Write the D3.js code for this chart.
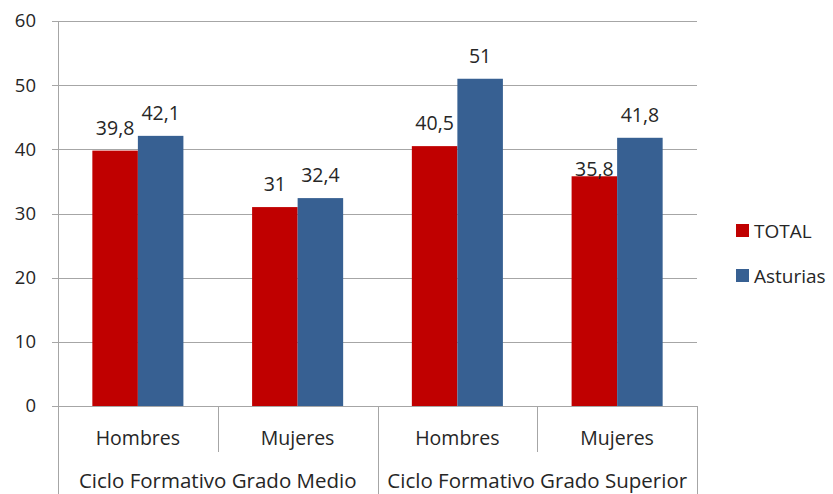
<!DOCTYPE html>
<html>
<head>
<meta charset="utf-8">
<script src="https://cdn.jsdelivr.net/npm/d3@7"></script>
<style>
  body { margin: 0; background: #fff; }
  svg { display: block; font-family: "Open Sans", "Noto Sans", sans-serif; }
</style>
</head>
<body>
<svg id="chart" width="833" height="494"></svg>
<script>
// Data
const groups = ["Ciclo Formativo Grado Medio", "Ciclo Formativo Grado Superior"];
const categories = ["Hombres", "Mujeres", "Hombres", "Mujeres"];
const seriesNames = ["TOTAL", "Asturias"];
const totalValues = [39.8, 31, 40.5, 35.8];
const asturiasValues = [42.1, 32.4, 51, 41.8];
const yTicks = [0, 10, 20, 30, 40, 50, 60];

const colors = ["#C00000", "#376092"];
const textColor = "#262626";
const lineColor = "#A6A6A6";

const svg = d3.select("#chart");
const margin = { left: 58, right: 136, top: 21, bottom: 88 };
const width = 833 - margin.left - margin.right;
const height = 494 - margin.top - margin.bottom;

const g = svg.append("g")
  .attr("transform", `translate(${margin.left},${margin.top})`);

// Scales
const x = d3.scaleBand()
  .domain(d3.range(categories.length))
  .range([0, width])
  .paddingInner(0)
  .paddingOuter(0);

const xSub = d3.scaleBand()
  .domain(d3.range(seriesNames.length))
  .range([x.bandwidth() * 0.215, x.bandwidth() * 0.785]);

const y = d3.scaleLinear().domain([0, 60]).range([height, 0]);

// Gridlines
g.append("g")
  .selectAll("line")
  .data(yTicks)
  .join("line")
  .attr("x1", -6)
  .attr("x2", width)
  .attr("y1", d => Math.round(y(d)) + 0.5)
  .attr("y2", d => Math.round(y(d)) + 0.5)
  .attr("stroke", lineColor);

// Y axis labels
g.append("g")
  .selectAll("text")
  .data(yTicks)
  .join("text")
  .attr("x", -22)
  .attr("y", d => y(d))
  .attr("dy", "0.35em")
  .attr("text-anchor", "end")
  .attr("font-size", 18.5)
  .attr("fill", textColor)
  .text(d => d);

// Bars
const seriesValues = [totalValues, asturiasValues];
seriesValues.forEach((vals, s) => {
  g.append("g")
    .selectAll("rect")
    .data(vals)
    .join("rect")
    .attr("x", (d, i) => x(i) + xSub(s))
    .attr("y", d => y(d))
    .attr("width", xSub.bandwidth())
    .attr("height", d => height - y(d))
    .attr("fill", colors[s]);

  // Value labels ("35,8" sits lower in the original)
  g.append("g")
    .selectAll("text")
    .data(vals)
    .join("text")
    .attr("x", (d, i) => x(i) + xSub(s) + xSub.bandwidth() / 2)
    .attr("y", d => y(d) - (d === 35.8 ? 0 : 16))
    .attr("text-anchor", "middle")
    .attr("font-size", 19.5)
    .attr("fill", textColor)
    .text(d => String(d).replace(".", ","));
});

// Y axis line
g.append("line")
  .attr("x1", 0.5).attr("x2", 0.5)
  .attr("y1", 0).attr("y2", 494 - margin.top)
  .attr("stroke", lineColor);

// Category separators
const bottom = g.append("g");
d3.range(categories.length + 1).forEach(i => {
  const xx = Math.round(i === categories.length ? width : x(i)) + 0.5;
  const isGroupEdge = i % 2 === 0;
  bottom.append("line")
    .attr("x1", xx).attr("x2", xx)
    .attr("y1", height)
    .attr("y2", isGroupEdge ? 494 - margin.top : height + 46)
    .attr("stroke", lineColor);
});

// Category labels
bottom.selectAll("text.cat")
  .data(categories)
  .join("text")
  .attr("class", "cat")
  .attr("x", (d, i) => x(i) + x.bandwidth() / 2)
  .attr("y", height + 39)
  .attr("text-anchor", "middle")
  .attr("font-size", 19.5)
  .attr("fill", textColor)
  .text(d => d);

// Group labels
bottom.selectAll("text.grp")
  .data(groups)
  .join("text")
  .attr("class", "grp")
  .attr("x", (d, i) => x(i * 2) + x.bandwidth())
  .attr("y", height + 82)
  .attr("text-anchor", "middle")
  .attr("font-size", 20.5)
  .attr("fill", textColor)
  .text(d => d);

// Legend
const legend = svg.append("g").attr("transform", "translate(736,224)");
seriesNames.forEach((name, i) => {
  const row = legend.append("g").attr("transform", `translate(0,${i * 45})`);
  row.append("rect")
    .attr("width", 13).attr("height", 13)
    .attr("fill", colors[i]);
  row.append("text")
    .attr("x", 18).attr("y", 7)
    .attr("dy", "0.35em")
    .attr("font-size", 19)
    .attr("fill", textColor)
    .text(name);
});
</script>
</body>
</html>
